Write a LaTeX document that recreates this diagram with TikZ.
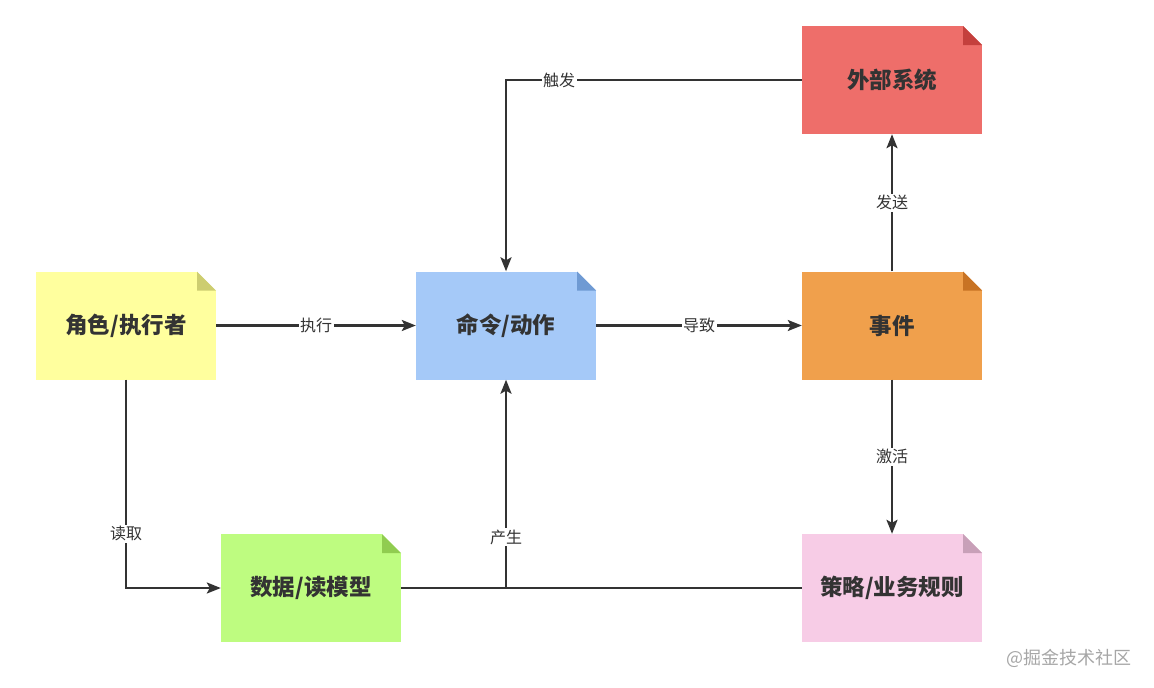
\documentclass[tikz,border=0pt]{standalone}
\usepackage{fontspec}
\setmainfont{Noto Sans CJK SC}
\usepackage{tikz}
\usetikzlibrary{arrows.meta}
\usepackage{xcolor}

\definecolor{actorFill}{RGB}{255,255,158}
\definecolor{actorFold}{RGB}{205,205,112}
\definecolor{cmdFill}{RGB}{165,201,248}
\definecolor{cmdFold}{RGB}{111,154,211}
\definecolor{evtFill}{RGB}{240,160,76}
\definecolor{evtFold}{RGB}{200,115,36}
\definecolor{extFill}{RGB}{238,110,106}
\definecolor{extFold}{RGB}{196,64,61}
\definecolor{dataFill}{RGB}{190,252,128}
\definecolor{dataFold}{RGB}{144,204,80}
\definecolor{polFill}{RGB}{247,204,230}
\definecolor{polFold}{RGB}{200,160,184}
\definecolor{lineGray}{RGB}{51,51,51}

\tikzset{
  note/.style 2 args={draw=none, fill=#1, minimum width=180pt, minimum height=108pt,
    inner sep=0pt, text=lineGray, font=\fontsize{22.5}{26}\selectfont\bfseries,
    path picture={
      \fill[white] ([xshift=-19pt]path picture bounding box.north east) -- (path picture bounding box.north east) -- ([yshift=-19pt]path picture bounding box.north east) -- cycle;
      \fill[#2] ([xshift=-19pt]path picture bounding box.north east) -- ([xshift=-19pt,yshift=-19pt]path picture bounding box.north east) -- ([yshift=-19pt]path picture bounding box.north east) -- cycle;
    }},
  link/.style={draw=lineGray, line width=2.2pt},
  flow/.style={link, -{Stealth[length=14pt,width=11pt,inset=3pt]}},
  tag/.style={fill=white, inner sep=1.5pt, text=lineGray, font=\fontsize{16}{18}\selectfont},
}

\begin{document}
\begin{tikzpicture}[x=1pt,y=1pt,yscale=-1]
\useasboundingbox (0,0) rectangle (1154,688);

%Shape: Notes
\node[note={actorFill}{actorFold}] (actor) at (126,325.5) {角色/执行者};
\node[note={cmdFill}{cmdFold}] (cmd) at (506,325.5) {命令/动作};
\node[note={evtFill}{evtFold}] (event) at (892,325.5) {事件};
\node[note={extFill}{extFold}] (ext) at (892,80) {外部系统};
\node[note={dataFill}{dataFold}] (data) at (311,588) {数据/读模型};
\node[note={polFill}{polFold}] (policy) at (892,588) {策略/业务规则};

%Straight Lines
\draw[flow] (actor.east) -- node[tag] {执行} (cmd.west);
\draw[flow] (cmd.east) -- node[tag] {导致} (event.west);
\draw[flow] (event.north) -- node[tag] {发送} (ext.south);
\draw[flow] (event.south) -- node[tag] {激活} (policy.north);
\draw[flow] (ext.west) -- node[tag, pos=0.82] {触发} (cmd.north |- ext.west) -- (cmd.north);
\draw[flow] (actor.south) |- node[tag, pos=0.37] {读取} (data.west);

%Straight Lines: data to policy, and up to command
\coordinate (join) at (cmd.south |- data.east);
\draw[link] (data.east) -- (policy.west);
\draw[flow] (join) -- node[tag, pos=0.245] {产生} (cmd.south);

% Text Node
\node[text=black!35, font=\fontsize{18}{20}\selectfont, anchor=east] (mark) at (1135,658) {@掘金技术社区};

\end{tikzpicture}
\end{document}
